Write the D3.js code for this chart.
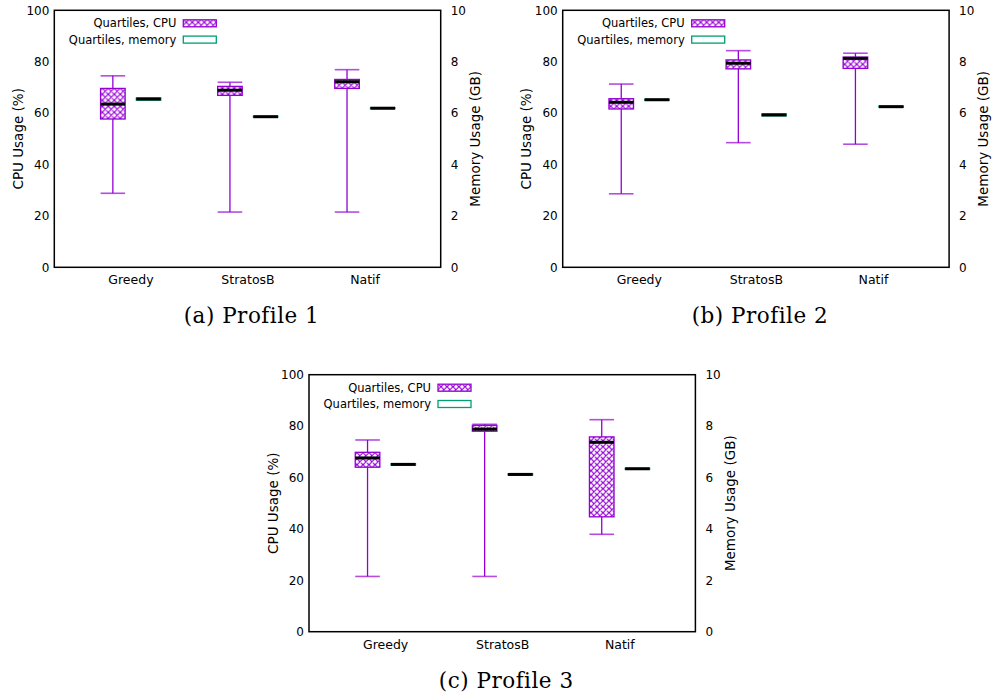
<!DOCTYPE html>
<html>
<head>
<meta charset="utf-8">
<script src="https://cdn.jsdelivr.net/npm/d3@7"></script>
<style>
  body { margin: 0; background: #fff; }
  svg text { font-family: 'DejaVu Sans', sans-serif; fill: #000; }
</style>
</head>
<body>
<svg id="chart"></svg>
<script>
const WIDTH = 993;
const HEIGHT = 697;

const PURPLE = '#9400d3';
const TEAL = '#009e73';

const categories = ['Greedy', 'StratosB', 'Natif'];
const captions = ['(a) Profile 1', '(b) Profile 2', '(c) Profile 3'];
const cpuTicks = [0, 20, 40, 60, 80, 100];
const memTicks = [0, 2, 4, 6, 8, 10];

// CPU usage (%): [min, q1, median, q3, max] per category
const cpuProfile1 = [[28.8, 57.7, 63.5, 69.6, 74.5], [21.5, 66.9, 68.9, 70.4, 72.0], [21.5, 69.6, 72.2, 73.1, 76.9]];
const cpuProfile2 = [[28.6, 61.6, 64.2, 65.6, 71.3], [48.5, 77.2, 79.4, 80.7, 84.3], [47.9, 77.4, 81.3, 81.8, 83.3]];
const cpuProfile3 = [[21.5, 64.0, 67.6, 69.8, 74.6], [21.5, 78.0, 78.8, 80.3, 80.7], [37.9, 44.7, 73.7, 75.8, 82.5]];

// Memory usage (GB): [q1, median, q3] per category
const memProfile1 = [[6.50, 6.55, 6.59], [5.84, 5.86, 5.88], [6.17, 6.19, 6.21]];
const memProfile2 = [[6.50, 6.52, 6.54], [5.89, 5.93, 5.97], [6.23, 6.25, 6.27]];
const memProfile3 = [[6.48, 6.51, 6.54], [6.09, 6.12, 6.15], [6.32, 6.34, 6.36]];

const panels = [
  { x: 54.3, y: 10.3, cpu: cpuProfile1, mem: memProfile1, caption: captions[0] },
  { x: 562.7, y: 10.3, cpu: cpuProfile2, mem: memProfile2, caption: captions[1] },
  { x: 309, y: 374.7, cpu: cpuProfile3, mem: memProfile3, caption: captions[2] },
];
const PW = 386.4;
const PH = 257;
const BOX = 0.21;

const svg = d3.select('#chart')
  .attr('width', WIDTH)
  .attr('height', HEIGHT);

// crosshatch fill like gnuplot's pattern
const P = 6;
const pat = svg.append('defs').append('pattern')
  .attr('id', 'hatch')
  .attr('patternUnits', 'userSpaceOnUse')
  .attr('width', P)
  .attr('height', P);
pat.append('rect').attr('width', P).attr('height', P).attr('fill', '#fff');
pat.append('path')
  .attr('d', `M0,0L${P},${P}M${P},0L0,${P}M-1,${P - 1}L1,${P + 1}M${P - 1},-1L${P + 1},1M-1,1L1,-1M${P - 1},${P + 1}L${P + 1},${P - 1}`)
  .attr('stroke', PURPLE)
  .attr('stroke-width', 1.2)
  .attr('fill', 'none');

const x = d3.scaleLinear().domain([0.35, 3.65]).range([0, PW]);
const yCpu = d3.scaleLinear().domain([0, 100]).range([PH, 0]);
const yMem = d3.scaleLinear().domain([0, 10]).range([PH, 0]);

panels.forEach(p => {
  const g = svg.append('g').attr('transform', `translate(${p.x},${p.y})`);

  // axes, labels only
  const left = g.append('g').call(d3.axisLeft(yCpu).tickValues(cpuTicks).tickSize(0).tickPadding(5));
  const right = g.append('g').attr('transform', `translate(${PW},0)`)
    .call(d3.axisRight(yMem).tickValues(memTicks).tickSize(0).tickPadding(10));
  const bottom = g.append('g').attr('transform', `translate(0,${PH})`)
    .call(d3.axisBottom(x).tickValues([1, 2, 3]).tickFormat((d, i) => categories[i]).tickSize(0).tickPadding(8));
  [left, right, bottom].forEach(a => {
    a.select('.domain').remove();
    a.selectAll('text').style('font-family', 'DejaVu Sans').style('font-size', '12px');
  });
  bottom.selectAll('text').style('font-size', '12.5px');

  g.append('text')
    .attr('transform', `translate(${-36},${PH / 2}) rotate(-90)`)
    .attr('text-anchor', 'middle')
    .attr('dy', '0.35em')
    .style('font-size', '13.5px')
    .text('CPU Usage (%)');
  g.append('text')
    .attr('transform', `translate(${PW + 34.5},${PH / 2}) rotate(-90)`)
    .attr('text-anchor', 'middle')
    .attr('dy', '0.35em')
    .style('font-size', '13.5px')
    .text('Memory Usage (GB)');

  // CPU boxes
  p.cpu.forEach((d, i) => {
    const cx = i + 1 - 0.15;
    const x0 = x(cx - BOX / 2);
    const x1 = x(cx + BOX / 2);
    const xc = x(cx);
    g.append('line').attr('x1', xc).attr('x2', xc).attr('y1', yCpu(d[0])).attr('y2', yCpu(d[4]))
      .attr('stroke', PURPLE).attr('stroke-width', 1.3);
    [d[0], d[4]].forEach(v => {
      g.append('line').attr('x1', x0).attr('x2', x1).attr('y1', yCpu(v)).attr('y2', yCpu(v))
        .attr('stroke', PURPLE).attr('stroke-opacity', 0.7).attr('stroke-width', 1.6);
    });
    g.append('rect')
      .attr('x', x0).attr('y', yCpu(d[3]))
      .attr('width', x1 - x0).attr('height', yCpu(d[1]) - yCpu(d[3]))
      .attr('fill', 'url(#hatch)')
      .attr('stroke', PURPLE).attr('stroke-width', 1.3);
    g.append('line').attr('x1', x0).attr('x2', x1).attr('y1', yCpu(d[2])).attr('y2', yCpu(d[2]))
      .attr('stroke', '#000').attr('stroke-width', 3);
  });

  // memory boxes
  p.mem.forEach((d, i) => {
    const cx = i + 1 + 0.155;
    const x0 = x(cx - BOX / 2);
    const x1 = x(cx + BOX / 2);
    g.append('rect')
      .attr('x', x0).attr('y', yMem(d[2]))
      .attr('width', x1 - x0).attr('height', yMem(d[0]) - yMem(d[2]))
      .attr('fill', '#fff')
      .attr('stroke', TEAL).attr('stroke-width', 1.2);
    g.append('line').attr('x1', x0).attr('x2', x1).attr('y1', yMem(d[1])).attr('y2', yMem(d[1]))
      .attr('stroke', '#000').attr('stroke-width', 3);
  });

  // legend
  const legend = [
    { label: 'Quartiles, CPU', fill: 'url(#hatch)', stroke: PURPLE },
    { label: 'Quartiles, memory', fill: '#fff', stroke: TEAL },
  ];
  legend.forEach((l, i) => {
    const ly = 13 + i * 16.3;
    g.append('text')
      .attr('x', 122).attr('y', ly).attr('dy', '0.35em')
      .attr('text-anchor', 'end')
      .style('font-size', '11.5px')
      .text(l.label);
    g.append('rect')
      .attr('x', 129).attr('y', ly - 3.5).attr('width', 33).attr('height', 7)
      .attr('fill', l.fill).attr('stroke', l.stroke).attr('stroke-width', 1.3);
  });

  // frame
  g.append('rect')
    .attr('width', PW).attr('height', PH)
    .attr('fill', 'none').attr('stroke', '#000').attr('stroke-width', 1.5);

  // caption
  svg.append('text')
    .attr('x', p.x + PW / 2 + 4)
    .attr('y', p.y + PH + 56)
    .attr('text-anchor', 'middle')
    .style('font-family', 'DejaVu Serif')
    .style('font-size', '21.5px')
    .style('letter-spacing', '0.5px')
    .text(p.caption);
});
</script>
</body>
</html>
